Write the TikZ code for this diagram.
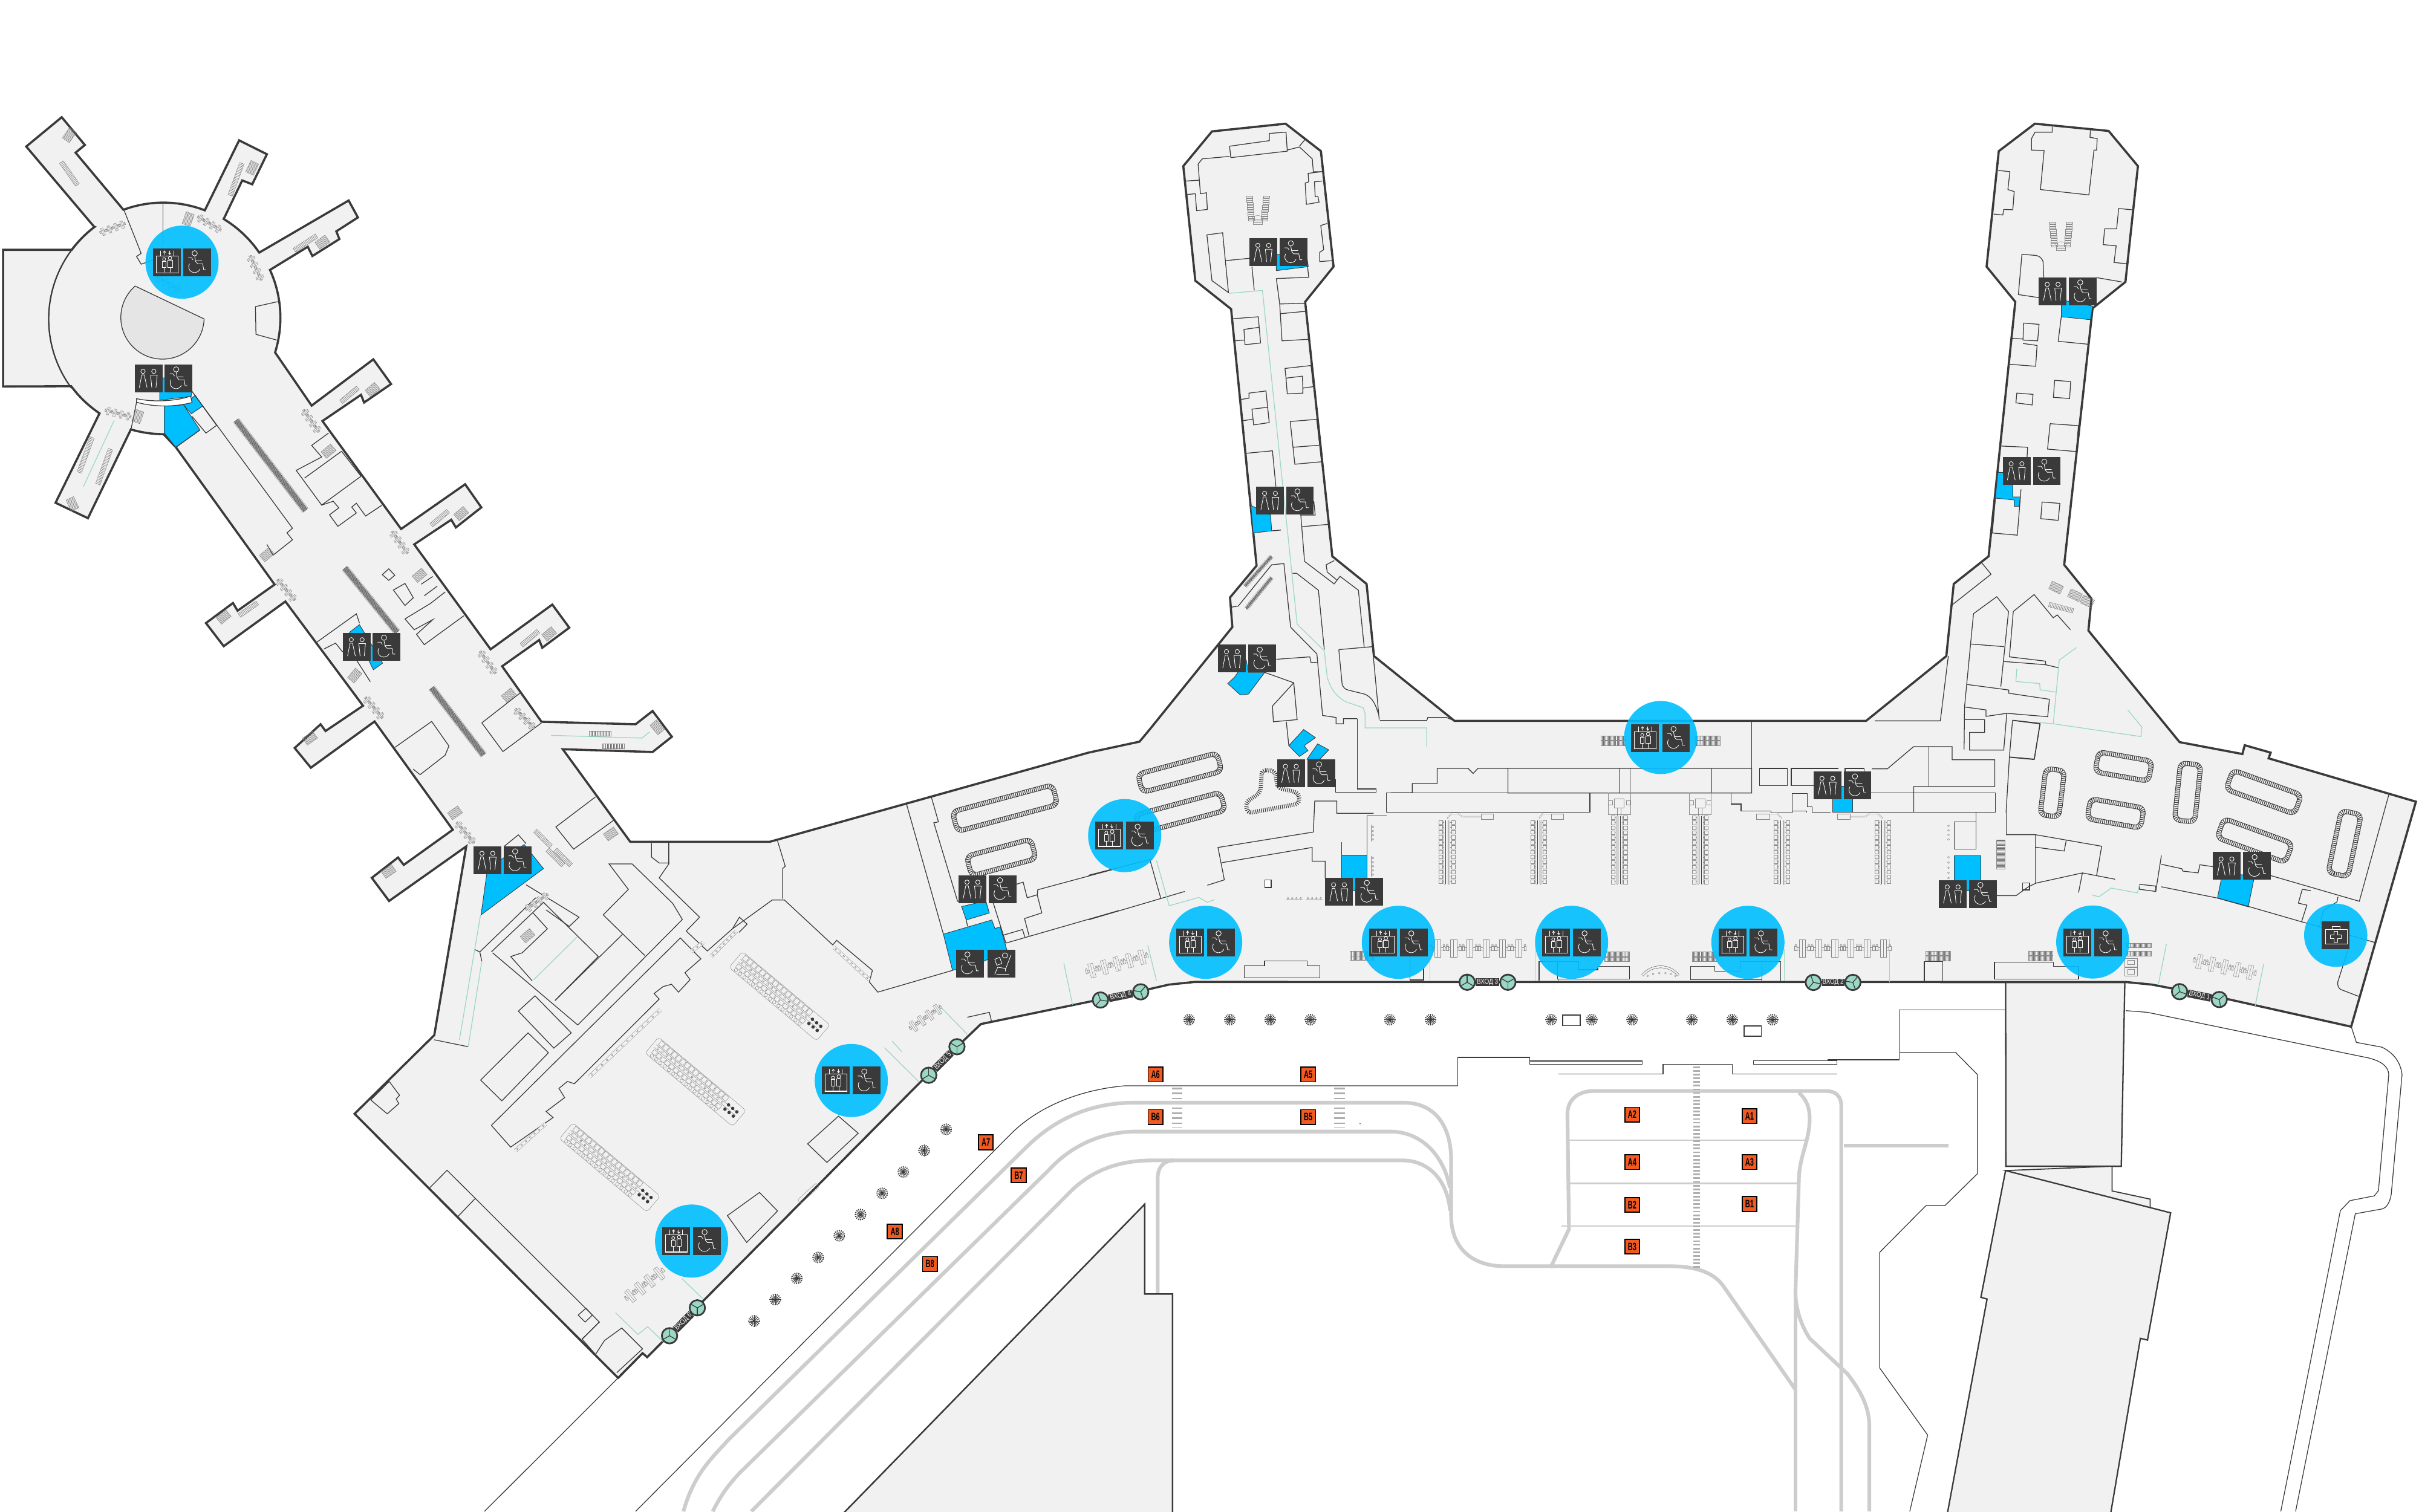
\documentclass[tikz,border=0pt]{standalone}
\usepackage{fontspec}
\setmainfont{Liberation Sans}
\newfontfamily\gatefont{Liberation Sans}[FakeStretch=0.62]
\newfontfamily\entfont{Liberation Sans}[FakeStretch=0.85]
\usetikzlibrary{calc}
\definecolor{wallc}{HTML}{3A3A3A}
\definecolor{floorc}{HTML}{F1F1F1}
\definecolor{bluec}{HTML}{00BFFF}
\definecolor{greenc}{HTML}{9AD8C5}
\definecolor{roadc}{HTML}{CDCDCD}
\definecolor{greyc}{HTML}{8A8A8A}
\definecolor{orangec}{HTML}{F15A22}
\tikzset{
 outerwall/.style={draw=wallc,line width=1.4pt,line join=miter,fill=floorc},
 w/.style={draw=wallc,line width=.5pt},
 thinw/.style={draw=wallc,line width=.5pt},
 bw/.style={draw=wallc,line width=.35pt,fill=bluec},
 gl/.style={draw=greenc,line width=.5pt},
 road/.style={draw=roadc,line width=2.4pt},
 roadthin/.style={draw=roadc,line width=.9pt},
 gy/.style={draw=greyc,line width=.2pt},
 glyph/.style={draw=white,line width=.33pt,line cap=round},
 gatestyle/.style={draw=black,fill=orangec,line width=.7pt,minimum width=9.6pt,minimum height=9.6pt,inner sep=0pt,font=\gatefont\bfseries\fontsize{7}{7}\selectfont,text=black},
 entc/.style={circle,draw=wallc,line width=1.1pt,fill=greenc,minimum size=10pt,inner sep=0pt},
 entbar/.style={draw=wallc,line width=5pt},
 enttext/.style={font=\entfont\fontsize{4.6}{4.6}\selectfont,text=white,inner sep=0pt},
 liftic/.pic={
  \fill[wallc] (-9,-9) rectangle (9,9);
  \draw[glyph] (-7,-4.2) rectangle (7.2,7);
  \draw[glyph,line width=.7pt] (-7,7) -- (7.2,7);
  \draw[glyph] (-4.2,-7.3) -- (-4.2,-4.2) (4.2,-7.3) -- (4.2,-4.2) (-1.7,-5) -- (-1.7,-7.3) (1.7,-7.3) -- (1.7,-5);
  \draw[glyph] (-2.5,-6.3) -- (-1.7,-7.3) -- (-.9,-6.3) (.9,-6) -- (1.7,-5) -- (2.5,-6);
  \draw[glyph] (-1.9,-1.9) circle[radius=1] (1.9,-2.6) circle[radius=1.15];
  \draw[glyph] (-1.9,6.5) -- (-1.9,3.5) (1.9,6.5) -- (1.9,3.5) (-3.2,3.5) rectangle (-.6,-.6) (.4,3.5) rectangle (3.4,-1.2);
 },
 wheelic/.pic={
  \fill[wallc] (-9,-9) rectangle (9,9);
  \draw[glyph] (-1.6,-5.8) circle[radius=1.7];
  \draw[glyph] (-1.6,-3.9) -- (-1,-.5) -- (.3,1) -- (3.6,1) -- (4.2,4.8) -- (5.6,4.8);
  \draw[glyph] (-.8,-1) -- (3,-1);
  \draw[glyph] (-5.7,-2.9) -- (-3.6,-2.9) -- (-2.7,-1.5);
  \draw[glyph] (-5,1.1) arc[start angle=210,end angle=25,radius=3.8];
 },
 toiletic/.pic={
  \fill[wallc] (-9,-9) rectangle (9,9);
  \draw[glyph] (-3.6,-4.5) circle[radius=1.4] (3.4,-4.5) circle[radius=1.4];
  \draw[glyph] (-6,6) -- (-4.4,-2.2) -- (-2.8,-2.2) -- (-1,6);
  \draw[glyph] (2.1,6) -- (1.3,-2) -- (5.6,-2) -- (4.8,6);
 },
 loungeic/.pic={
  \fill[wallc] (-9,-9) rectangle (9,9);
  \draw[glyph] (2.4,-5.2) circle[radius=1.7];
  \draw[glyph] (6.3,-5.4) -- (3,3.2) -- (-2.3,2.5) -- (-4.2,7);
  \draw[glyph] (-3,6.9) -- (5,6.9) (2.5,3.3) -- (2.5,5);
  \draw[glyph] (-4.2,-2.7) -- (-1,-4) -- (.4,0) -- (-2.9,1.2) -- cycle;
 },
 medic/.pic={
  \fill[wallc] (-9,-9) rectangle (9,9);
  \draw[glyph] (-6.8,-3.6) rectangle (7.3,5.6);
  \draw[glyph] (-2.5,-3.6) -- (-2.5,-5.8) -- (2.7,-5.8) -- (2.7,-3.6);
  \draw[glyph,line width=.28pt] (-1,-2.6) -- (1.1,-2.6) -- (1.1,-.3) -- (3.6,-.3) -- (3.6,2) -- (1.1,2) -- (1.1,4.4) -- (-1,4.4) -- (-1,2) -- (-3.4,2) -- (-3.4,-.3) -- (-1,-.3) -- cycle;
 },
}
\newcommand\Wl[1]{\draw[w] plot coordinates {#1};}
\newcommand\Wc[1]{\draw[w] plot coordinates {#1} -- cycle;}
\newcommand\Bl[1]{\draw[bw] plot coordinates {#1} -- cycle;}
\newcommand\Gl[1]{\draw[gl] plot coordinates {#1};}
\newcommand\Ic[3]{\pic at (#2,#3) {#1};}
\newcommand\Pair[5]{\pic at (#2,#4) {#1}; \pic at (#3,#4) {#5};}
\newcommand\Disc[3]{\fill[bluec,opacity=.9] (#1,#2) circle[radius=#3];}
\newcommand\gatelabel[3]{\node[gatestyle] (g#1) at (#2,#3) {#1};}
\newcommand\entrancegate[7]{%
 \node[entc] (#1a) at (#2,#3) {};
 \node[entc] (#1b) at (#4,#5) {};
 \foreach \aa in {0,120,240} {
  \draw[draw=wallc,line width=.5pt] (#1a.center) -- ++(#7+\aa:5);
  \draw[draw=wallc,line width=.5pt] (#1b.center) -- ++(#7+60+\aa:5);
 }
 \draw[entbar] (#1a) -- node[enttext,sloped] (#1t) {#6} (#1b);
}
\newcommand\treeic[2]{%
 \begin{scope}[shift={(#1,#2)}]
 \foreach \aa in {0,22.5,...,337.5} {\draw[draw=wallc,line width=.28pt] (0,0) -- (\aa:3.8);}
 \draw[draw=wallc,line width=.5pt,dash pattern=on .7pt off .6pt] (0,0) circle[radius=3.4];
 \draw[draw=wallc,line width=.4pt,dash pattern=on .5pt off .5pt] (0,0) circle[radius=2.1];
 \fill[wallc] (0,0) circle[radius=.8];
 \end{scope}}
\newcommand\carousel[5]{%
 \begin{scope}[shift={(#1,#2)},rotate=#5]
 \pgfmathsetmacro\lh{#3/2}\pgfmathsetmacro\hh{#4/2}
 \pgfmathsetmacro\lm{#3/2-1.4}\pgfmathsetmacro\hm{#4/2-1.4}
 \pgfmathsetmacro\li{#3/2-2.8}\pgfmathsetmacro\hi{#4/2-2.8}
 \draw[draw=wallc,line width=2.7pt,dash pattern=on .45pt off .8pt,rounded corners=4pt] (-\lm,-\hm) rectangle (\lm,\hm);
 \draw[draw=wallc,line width=.35pt,rounded corners=5pt] (-\lh,-\hh) rectangle (\lh,\hh);
 \draw[draw=wallc,line width=.35pt,rounded corners=3pt] (-\li,-\hi) rectangle (\li,\hi);
 \end{scope}}
\newcommand\hatchbox[6]{% x y rot w h step
 \begin{scope}[shift={(#1,#2)},rotate=#3]
 \pgfmathsetmacro\hw{#4/2}\pgfmathsetmacro\hh{#5/2}
 \pgfmathtruncatemacro\nk{#4/#6}
 \foreach \kk in {0,...,\nk} {\pgfmathsetmacro\xx{-\hw+\kk*#6}\draw[draw=wallc!75,line width=.2pt] (\xx,-\hh) -- (\xx,\hh);}
 \draw[gy] (-\hw,-\hh) rectangle (\hw,\hh);
 \end{scope}}
\newcommand\seatrow[5]{% x y rot n scale
 \begin{scope}[shift={(#1,#2)},rotate=#3,scale=#5]
 \pgfmathsetmacro\nn{(#4-1)/2}
 \draw[gy] (-\nn*10.5-5,-.8) rectangle (\nn*10.5+5,.8);
 \foreach \ii in {1,...,#4} {
  \pgfmathsetmacro\xx{(\ii-1-\nn)*10.5}
  \draw[gy,fill=floorc] (\xx-2,-5.8) rectangle (\xx+2,5.8);
  \draw[gy] (\xx,-5.8) -- (\xx,5.8);
  \draw[gy,fill=floorc] (\xx-5,-1.5) rectangle (\xx-3.5,1.5) (\xx+3.5,-1.5) rectangle (\xx+5,1.5);
  \draw[gy] (\xx-4.2,-2.2) circle[radius=.7] (\xx+4.2,-2.2) circle[radius=.7];
 }
 \end{scope}}
\newcommand\seatcol[3]{% x ytop ybottom
 \draw[draw=wallc,line width=.3pt] (#1-.8,#2) -- (#1-.8,#3) (#1+.8,#2) -- (#1+.8,#3);
 \draw[gy] (#1-2,#2) -- (#1-2,#3) (#1+2,#2) -- (#1+2,#3) (#1-2,#3) -- (#1-.8,#3+.8) (#1+2,#3) -- (#1+.8,#3+.8);
 \pgfmathtruncatemacro\nk{(#3-#2)/3.2}
 \foreach \kk in {0,...,\nk} {
  \pgfmathsetmacro\yy{#2+\kk*3.2}
  \draw[gy] (#1-5.2,\yy) rectangle (#1-2.8,\yy+2.4) (#1+2.8,\yy) rectangle (#1+5.2,\yy+2.4);
  \draw[gy] (#1-2.8,\yy+1.2) -- (#1-2,\yy+1.2) (#1+2.8,\yy+1.2) -- (#1+2,\yy+1.2);
 }}
\newcommand\seatisland[3]{%
 \begin{scope}[shift={(#1,#2)},rotate=-40]
 \draw[gy,rounded corners=2pt] (-37,-7.5) rectangle (37,6);
 \draw[gy] (-35,-2.8) -- (34,-2.8) (-35,-.6) -- (34,-.6);
 \foreach \xx in {-34,-30.4,...,22} {
  \draw[gy] (\xx,-7) rectangle (\xx+3,-3.6) (\xx,.4) rectangle (\xx+3,3.2);
  \draw[gy] (\xx+1.5,4.5) circle[radius=1.1] (\xx+1.5,-1.7) circle[radius=.7];
 }
 \foreach \xx in {26,29.5,33} {\fill[wallc] (\xx,-3) circle[radius=1.1] (\xx,.6) circle[radius=1.1];}
 \end{scope}}
\newcommand\deskrow[5]{%
 \draw[draw=greyc,line width=2.4pt] (#1,#2) -- (#3,#4);
 \draw[draw=floorc,line width=2pt] (#1,#2) -- (#3,#4);
 \foreach \ii in {1,...,#5} {
  \pgfmathsetmacro\ff{(\ii-.5)/#5}
  \draw[gy] ($(#1,#2)!\ff!(#3,#4)$) circle[radius=.6];
 }}
\newcommand\ustair[2]{%
 \begin{scope}[shift={(#1,#2)}]
 \foreach \ii in {0,1.5,...,15} {
  \draw[gy] (-7.5+\ii*.09,-9+\ii) rectangle (-3.5+\ii*.09,-7.8+\ii);
  \draw[gy] (3.5-\ii*.09,-9+\ii) rectangle (7.5-\ii*.09,-7.8+\ii);
 }
 \foreach \ii in {6,7.2,8.4} {\draw[gy] (-3,\ii) rectangle (3,\ii+1.1);}
 \draw[gy] (-4,6) .. controls (-3,3) and (3,3) .. (4,6);
 \end{scope}}
\begin{document}
\begin{tikzpicture}[x=1pt,y=-1pt]
\useasboundingbox (0,0) rectangle (1568,980);
\fill[white] (0,0) rectangle (1568,980);

% road edge thin lines
\draw[thinw] (1378,655.3) -- (1392,656.4) -- (1535.4,686) .. controls (1543,688) and (1548,691) .. (1548.4,696.7) -- (1541.7,772) -- (1539,775.4) -- (1523.2,778.5) -- (1517,785) -- (1478.4,980);
\draw[thinw] (1524,665.5) -- (1527.4,675.9) -- (1544,679) .. controls (1552,683) and (1556,689) .. (1557,696.7) -- (1550,774.3) .. controls (1549,780) and (1547,783) .. (1544,783.9) -- (1526.7,787) -- (1488,980);
\Wl{(1231,654.9) (1300,654.9)}
\Wl{(1231,654.9) (1231,687.2) (1184.7,687.2)}
\Wl{(1231.6,682.5) (1267.7,682.5) (1281.7,696.7) (1281.7,761.1) (1260.7,781.7) (1248.4,781.7) (1218.4,812) (1218.4,887) (1249.5,930.5) (1237.9,980)}
\Wl{(944.9,704) (944.9,685.6) (991.6,685.6) (991.6,690) (1064.5,690) (1064.5,688) (991.6,688)}
\Wl{(1136.5,687.8) (1136.5,690) (1190.7,690) (1190.7,687.8) (1136.5,687.8)}
\Wl{(1010.3,696.5) (1078,696.5) (1078,690) (1123,690) (1123,696.5) (1190.7,696.5)}
\draw[thinw] (944.9,704) -- (729.5,704) .. controls (705,706) and (675,715) .. (654.5,736) -- (412,980);
\draw[thinw] (400.8,893.3) -- (314,980);

% roads
\draw[road] (443,980) .. controls (450,955) and (462,945) .. (472,933.7) -- (664.5,744.6) .. controls (682,727) and (705,715) .. (735,715) -- (910,715) .. controls (930,715) and (940.6,730) .. (940.6,752) -- (940.6,788) .. controls (940.6,810) and (955,821) .. (975,821) -- (1082,821) .. controls (1097,821) and (1110,824) .. (1117,833.8) -- (1163.8,901);
\draw[road] (462,980) .. controls (468,968) and (473,962) .. (479.5,955) -- (679.5,759) .. controls (695,742) and (715,733.7) .. (737,733.7) -- (901,733.7) .. controls (922,733.7) and (936,750) .. (939.8,770);
\draw[road] (487,980) -- (694.5,772) .. controls (708,759) and (725,752.4) .. (747,752.4) -- (909,752.4) .. controls (926,752.4) and (938,765) .. (940,785);
\draw[road] (761,752.4) .. controls (754,752.4) and (750.4,757) .. (750.4,764.4) -- (750.4,839);
\draw[road] (1005,822) -- (1017,797) -- (1016,722.4) .. controls (1016,713) and (1023,707.4) .. (1033,707.4) -- (1183.7,707.4) .. controls (1190,707.4) and (1193.5,711) .. (1193.5,717) -- (1193.5,980);
\draw[road] (1166,708.4) .. controls (1171,713) and (1173,718) .. (1173,725.4) .. controls (1173,740) and (1166,750) .. (1166,766) -- (1163.8,838) .. controls (1164,850) and (1168,860) .. (1173,867.8) -- (1197.7,891) .. controls (1206,902) and (1211.7,912) .. (1211.7,925) -- (1211.7,980);
\draw[road] (1163.8,838) -- (1163.8,980);
\draw[road] (1195,742.9) -- (1263,742.9);
\draw[roadthin] (1017,739.2) -- (1172,739.2) (1017,767.3) -- (1165,767.3) (1012,794.9) -- (1163.8,794.9);
\draw[draw=roadc!85!black,line width=4.2pt,dash pattern=on 1.1pt off 1.3pt] (1099.7,691.4) -- (1099.7,823.2);
\foreach \cx in {763,868.4} {
 \draw[draw=roadc!85!black,line width=7pt,dash pattern=on 1pt off 2.3pt] (\cx,705.2) -- (\cx,713);
 \draw[draw=roadc!85!black,line width=7pt,dash pattern=on 1pt off 2.3pt] (\cx,718) -- (\cx,731.5);
}
\fill[wallc] (881.6,728.6) circle[radius=.35];

% lower buildings
\draw[outerwall,line width=.9pt] (1300,600) -- (1378,600) -- (1375,756.2) -- (1300.2,756.2) -- cycle;
\draw[outerwall,line width=.7pt] (1369,756.2) -- (1369,772.2) -- (1393.7,777.5) -- (1393.7,785) -- (1300,759) -- cycle;
\draw[outerwall,line width=.9pt] (1300,759) -- (1407,786.4) -- (1392,868.9) -- (1387.4,867.8) -- (1367.5,985) -- (1261.6,985) -- (1288,842.3) -- (1284,841.2) -- cycle;
\draw[outerwall,line width=1pt] (543,985) -- (742,780.8) -- (742,839) -- (760,839) -- (760,985) -- cycle;

% main floor outline
\draw[outerwall] (61,147) -- (17,95) -- (40,76) -- (55,94) -- (49,99) -- (80,136) arc[start angle=249.8,end angle=291,radius=75]
 -- (155,91) -- (173,100) -- (163.5,119.5) -- (157,117) -- (145,142) arc[start angle=-58.8,end angle=-34.4,radius=75]
 -- (226,130) -- (232,141) -- (218,150) -- (220,155) -- (202.5,166) -- (199.5,160) -- (175,175) arc[start angle=-24.5,end angle=17.4,radius=75]
 -- (202,263) -- (242,233) -- (253.5,249) -- (236,261) -- (234,256) -- (209,273) -- (260,343) -- (301.5,314) -- (312,329) -- (295.5,342) -- (292.5,337) -- (268.5,353) -- (318,421) -- (358,392) -- (369,407) -- (351.5,420) -- (349.5,415) -- (325.5,432) -- (351,468)
 -- (412,469.6) -- (423,461) -- (435.5,477.7) -- (423,487.6) -- (364.8,485.8) -- (408.5,545.8) -- (499,545.8) -- (705.6,488) -- (738.6,480.9) -- (744.8,473.5) -- (798.8,406.6) -- (797.3,387.4) -- (814.5,366.8)
 -- (798,200.4) -- (774.8,182) -- (767,107.7) -- (785.6,85.2) -- (833.3,80.2) -- (856.2,98) -- (864.4,172.9) -- (846,195.7) -- (863.6,360.7) -- (885.8,378.6) -- (890.6,425.4) -- (942.8,467.4)
 -- (1209.6,467.4) -- (1261.6,425.4) -- (1266.4,378.6) -- (1289,360.7) -- (1306.3,195.7) -- (1287.7,172.9) -- (1295.6,98) -- (1319,80.2) -- (1366.8,84.9) -- (1385.8,107.7) -- (1377.7,182.8) -- (1356.4,199.9) -- (1338,366.2) -- (1355.7,388.2) -- (1353.7,408.9)
 -- (1412.8,481.2) -- (1453.5,488.9) -- (1455,483.2) -- (1471.8,488) -- (1470.5,491.7) -- (1566,519.8) -- (1524,665.7) -- (1444.8,648) -- (1394.8,638.4) -- (1378.5,636.8) -- (774.4,636.7) -- (757.8,638.4) -- (738.6,642.8) -- (635.8,664) -- (598.2,700) -- (457,842.3) -- (419.5,880) -- (416.5,877.4) -- (400.8,893.3) -- (399.8,892.6) -- (229.8,722.2) -- (281.5,671.2) -- (302.2,548.8) -- (252.2,584.2) -- (241,569.2) -- (258,556) -- (261.7,560.8) -- (293.5,538) -- (242.8,467.8) -- (201.5,497.8) -- (191,485) -- (207.8,469.6) -- (211,474) -- (235.3,457.6) -- (185,390) -- (145,419) -- (133.5,404) -- (151,391) -- (154,396) -- (178,379) -- (114,290) -- (106,281.5) arc[start angle=90,end angle=106.4,radius=75]
 -- (57,336) -- (36,326) -- (64.5,268) arc[start angle=124,end angle=143.5,radius=75]
 -- (2,250.6) -- (2,162) -- (46.5,162) arc[start angle=216.8,end angle=232.9,radius=75] -- cycle;
\draw[draw=floorc,line width=1.6pt] (47.5,163) -- (47.5,250);
\draw[outerwall,line width=.9pt,fill=none] (46.5,162) arc[start angle=216.8,end angle=143.5,radius=75];

% blue rooms
\Bl{(103.5,245) (120,245) (124.5,252.5) (123.9,257) (103.5,259.5)}
\Bl{(119,262.5) (124,268.3) (131.4,263.3) (126.6,256.3)}
\Bl{(106.5,263.3) (119,262.5) (129.6,278.8) (114,290) (106.5,280.8)}
\Bl{(226.5,410) (233,405) (248,430) (242,434.3) (235,420)}
\Bl{(339.8,547.6) (352.3,563.2) (311.8,593.2) (316,563)}
\Bl{(623.3,587.8) (639,584.1) (641.3,592) (626.3,596.5)}
\Bl{(611.5,605.7) (642.9,596.5) (644.9,602) (648.4,601.1) (652.7,616.1) (637.7,623.3) (617.4,629.2)}
\Bl{(835.4,483.5) (845,473) (852.7,478.3) (845.3,483.5) (847.8,486.7) (842.3,490.5)}
\Bl{(847.2,492.3) (854.1,482.3) (861.3,486.2) (855.5,492.3)}
\Bl{(869.5,554.4) (886,554.4) (886,577.5) (869.5,577.5)}
\Bl{(1187.9,509.6) (1200.9,509.6) (1200.9,526.6) (1187.9,526.6)}
\Bl{(1266.8,554.7) (1284,554.7) (1284,577.5) (1266.8,577.5)}
\Bl{(1440.5,566.9) (1461.5,567.4) (1457.3,588) (1437.3,582.3)}
\Bl{(810.8,327.7) (823.6,334) (824.3,344.2) (812.3,345.6)}
\Bl{(827,165) (847,165) (848,172.9) (827.3,175.5)}
\Bl{(795.8,443.2) (800.3,439) (807.8,428) (809.3,436) (819.8,436) (809.3,450) (804,450.6)}
\Bl{(1336.1,194.4) (1356.4,198.5) (1355,207.3) (1336.1,205.4)}
\Bl{(1295,306.3) (1298.8,306.3) (1304.7,314) (1304.7,322.2) (1309.6,322.2) (1308.7,328.3) (1305.6,328.3) (1305.6,324.2) (1293.4,323)}

% rotunda
\draw[w,fill=black!10] (132.3,206.8) arc[start angle=2,end angle=229,radius=27] -- cycle;
\Wl{(105.6,131.8) (105.6,158.8)}
\Wl{(80.4,136.3) (91.5,164.3) (88.5,166.3) (91.5,171.3) (99,168.8)}
\Wl{(180,195.6) (165.6,198.8) (165.9,216.8) (179.4,220.5)}
\draw[w,fill=white] (88.5,260.8) .. controls (100,264) and (113,264) .. (124.5,261) -- (123.6,256.8) .. controls (115,260) and (100,261) .. (88.5,258.5) -- cycle;
\Wl{(88.5,260.8) (85,278)}
\Wl{(124.5,253.8) (189.6,342.5) (186,345.5) (189.6,350) (177,360) (173,353)}
\Wl{(131.4,263.3) (140.4,275.8) (133.5,280.8) (124.5,270)}
\Wl{(129.6,278.8) (114,290)}
% long hall rooms
\Wl{(213,280.8) (202,288.8) (208.5,296.3) (192,305) (208.5,327.5) (234,308.8)}
\Wl{(197.4,310) (221.4,292.6)}
\Wl{(208.5,327.5) (216,325) (219.6,329.3) (213.6,333.8) (219,341.3) (231,332.6) (228,328.8) (231,326.3) (237,334.6) (247.5,327.6)}
\Wl{(221.4,292.6) (234,308.8)}
\Wc{(247.8,372.6) (252,368.8) (255.9,373) (252,376.3)}
\Wc{(255,382.6) (262.5,378.3) (267.9,387.6) (262.5,392.6)}
\Wl{(262.5,401.3) (279,391.3) (288.6,383.8)}
\Wl{(262.5,401.3) (268.5,408.3) (280.5,401.8) (270,411.3) (275,418) (300.6,399.3)}
\Wl{(273,378.8) (280.5,373.8)} \Wl{(275,386.3) (283.5,380)}
\Wl{(205.5,416.3) (231,398) (233,404)}
\Wl{(210,420.8) (217.5,417) (222,422.6) (226,420) (240,442)}
\Wl{(256,484.6) (279.8,467.8) (291,483.7) (288.5,489.7) (272.3,502.3) (267.8,498.7)}
\Wl{(312.3,468.7) (337.3,449.2)} \Wl{(312.3,468.7) (326,487.3) (351,468.7)}
\Wl{(386,516.7) (360.3,536.2) (371.8,550.6) (398,531.7)}
\Wl{(326.8,548.8) (336,541.3) (341,547)}
% lower-left wing
\Wl{(341,573.7) (375.3,594.7) (369,600.7) (354,590)}
\Wl{(311,617.2) (347.3,582.1)} \Wl{(307.8,615.7) (311,617.2) (312.3,623.2)}
\Wl{(318.5,617.2) (352.3,585.1) (387.8,620.2) (359.8,648.7)}
\Wl{(319.3,617.8) (374.5,664.6)}
\Wl{(345.3,591.7) (354.8,602.2) (338.5,617.8) (331,620.2) (345,636)}
\Wc{(336,655.6) (346.8,645.7) (370.3,669.7) (359,679.6)}
\Wc{(311.5,700.3) (342.3,669.7) (355.5,682.6) (325.3,713.8)}
\Wl{(318.5,729.7) (441,608.2) (454.3,621.7) (444,630.7) (447.3,635.2) (439.8,643.3) (435.3,638.2) (429.8,639.7) (424,644.2) (427.3,647.8) (372.3,702.7) (367.8,701.2) (362.3,705.7) (366,711.7) (354,720.7) (358.5,724.6) (331,743.8) (318.5,729.7)}
\Wl{(374.5,664.6) (442.3,596.2) (436,585.7) (409.8,560.2) (394.8,560.2) (407.3,576.7) (391,593.2) (418,619.6)}
\Wl{(403.5,605.8) (359.8,648.7)}
\Wl{(453.5,594.7) (427.3,569.2) (433.5,560.2) (433.5,546)}
\Wl{(422.3,546.7) (422.3,555.7) (427.3,559.6) (434,559.6)}
\Wl{(444.8,603.7) (453.5,594.7)}
\Wl{(444.8,603.7) (458.5,616.6) (474.8,602.2) (479.3,594.7) (484.3,599.2) (479,604.6)}
\Wl{(474.8,602.2) (500.5,583.6) (508.5,583.6) (539.8,612.7) (542.3,609.7) (565.5,629.2) (563.5,636.7) (569,643.3) (617.4,629.2)}
\Wl{(507.3,582.7) (507.3,563.2) (509,561.7) (504,545.2)}
\Wl{(278.5,770.2) (289.8,758.8) (388.5,857.2) (377.3,868.3) (386,878.2) (391.8,869.2) (403,861.1) (416.5,874.6) (399.8,890)}
\Wl{(296.8,788.8) (308,777.1)} \Wl{(377.3,868.3) (388.5,857.2)}
\Wc{(374.8,852.7) (379.8,848.2) (384,852.7) (379.3,857.2)}
\Wl{(240.3,713.2) (252.3,701.2) (259,710.2) (256.8,712.6) (258.5,715.6) (251,722.2) (240.3,713.2)}
\Wc{(471.5,788.2) (492.3,773.2) (504,785.2) (484,805.6)}
\Wc{(523.5,741.7) (543.5,723.7) (556.3,734.8) (536,753.7)}
\Wl{(627,659.6) (641.3,656.4) (642.8,662.7)}
\Wl{(281.5,674.2) (303.5,678.7)}
% west hall
\Wl{(587.6,521.4) (611.5,605.7)}
\Wl{(603.7,516.8) (608.3,532.9) (605.3,533.5) (620.7,584.4) (630,582)}
\Wl{(626.3,596.5) (627.2,600.7)}
\Wl{(643.8,585.4) (652,611.5)}
\Wl{(650.5,606.3) (662.8,602.7) (664.3,607.6)}
\Wl{(652,611.5) (725.2,590.4)}
\Wl{(667.1,607) (664.1,595.6) (675.3,591.9) (672.3,580.2) (672.7,576.9) (721.3,563.8)}
\Wl{(658.6,573.4) (663.2,572) (665.8,582.1) (672.3,580.2)}
\Wl{(705.6,567.5) (746.9,557)}
\Wl{(705.6,596.4) (768,578)}
\Wl{(745.5,557.9) (752.4,582.4)}
\Wl{(782.6,574) (793.6,570.5) (789.5,549.5) (851.3,539.5) (852.2,519.4) (866.5,519.4) (866.5,527.3) (890.4,527.3)}
\Wl{(792.2,559.3) (850.5,549.5) (850.5,558.4) (859,558.4) (859,569.3)}
\Wl{(869.5,546) (869.5,569.3)}
\Wl{(898.7,529) (886,529) (886,569.3)}
\Wl{(879.7,466) (879.7,511.5) (892,511.5) (892,513.8) (865.7,513.8) (865.7,505.4)}
\Wl{(833.8,468) (835.4,483.5)}
% centre band
\Wl{(901.6,514) (915.4,514) (915.4,508) (931.6,508) (931.6,498.2) (951.6,498.2) (954.9,501.5) (958,498.2) (1135.4,498.2) (1135.4,514.2) (977.4,514.2) (977.4,498.2)}
\Wl{(1049.6,498.2) (1049.6,514.2)} \Wl{(1056.6,498.2) (1056.6,514.2)} \Wl{(1109.4,498.2) (1109.4,514.2)}
\Wl{(1135.4,467.8) (1135.4,498.2)}
\Wc{(898.7,514) (1030.6,514) (1030.6,526.7) (898.7,526.7)}
\Wl{(1122,514.2) (1122,521.4) (1128.6,521.4) (1128.6,526) (1147.9,526) (1147.9,527) (1161.6,527) (1161.6,514.6) (1171.6,514.6) (1171.6,523) (1174.6,523) (1174.6,526.6) (1186.6,526.6)}
\Wl{(1161.6,526) (1171,526) (1171,527)}
\Wc{(1140.6,498.2) (1158.4,498.2) (1158.4,509.3) (1140.6,509.3)}
\Wl{(1191.6,498.2) (1161.1,498.2) (1161.1,509.3) (1191,509.3)}
\Wl{(1196,500.5) (1196,498.2) (1208.4,498.2) (1208.4,500.5)}
\Wl{(1213.4,498.5) (1223.4,498.5) (1240.4,484.1) (1265.4,484.1) (1265.4,492.6) (1293,492.6) (1293,510) (1240.5,510) (1240.5,526.6)}
\Wl{(1250.2,484) (1250.2,510)}
\Wl{(1213,514.1) (1293.5,514.1) (1293.5,526.6) (1200.9,526.6)}
\Wl{(1280.8,526.6) (1280.8,550.6)}
\Wc{(1266.8,532.8) (1280.8,532.8) (1280.8,550.6) (1266.8,550.6)}
\Wl{(1284,554.7) (1284,570)}
\Wl{(1294,580.7) (1306.8,580.7) (1314.8,575) (1319.8,572.6) (1349.8,566) (1371,570.1)}
\Wl{(1349.8,566) (1347.3,578.8)}
\Wc{(1311,572.6) (1315.5,572.6) (1315.5,577) (1311,577)}
\Wl{(1319.3,541.2) (1319.3,572.6)}
\Wl{(1300.3,541.2) (1319.3,541.2) (1362.3,548.7) (1359,567.7)}
\Wl{(1319.3,549.3) (1338,551.8) (1339.3,545)}
\Wl{(1300.3,527) (1300.3,541.2)}
\Wl{(1304.8,467) (1322.3,469) (1318.5,492.5) (1302.3,491)}
\Wl{(1401,554.7) (1397.3,578.3)}
\Wl{(1401,575) (1437.3,582.3) (1457.3,587.7) (1492.3,597.8) (1539.8,611.2)}
\Wl{(1401,560.4) (1414.3,563.3) (1414.8,564.8) (1424.8,566) (1426,560.7) (1434.8,562)}
\Wl{(1471.8,567.7) (1529.3,584.4) (1548.5,515)}
\Wl{(1492.3,576.6) (1497.8,577.5)}
\Wl{(1492.3,576.6) (1489.8,585.6) (1495.3,586.9) (1491.8,597.8)}
\Wl{(1515.5,581.5) (1514.8,584.8) (1506,590.4) (1503.5,601)}
\draw[w] (1522.3,614.8) -- (1515.3,636.8) .. controls (1515,639) and (1516,641) .. (1517.3,641.6) -- (1529.3,646.2);
\Wc{(1386.8,573.4) (1397.3,574.5) (1397.3,578) (1386.8,576.6)}
% facade rooms
\Wc{(806.5,626.2) (819.7,626.2) (819.7,623) (847.2,623) (847.2,626.2) (855.5,626.2) (855.5,634) (806.5,634)}
\Wl{(913.8,620) (913.8,635.4) (922.8,635.4) (922.8,628)}
\Wl{(997.6,636) (997.6,623.5) (1023.2,623.5) (1023.2,628.8) (1035.6,628.8) (1035.6,626.5) (1056.2,626.5) (1056.2,634.9) (1010,634.9) (1010,636)}
\Wl{(1009.5,623.5) (1009.5,635)}
\Wc{(1095.9,626.6) (1111.6,626.6) (1111.6,629.6) (1127.9,629.6) (1127.9,623.6) (1154.1,623.6) (1154.1,636.4) (1142,636.4) (1142,635.1) (1095.9,635.1)}
\Wl{(1142,623.6) (1142,636)}
\Wc{(1247.3,623.4) (1259.3,623.4) (1259.3,636.8) (1247.3,636.8)}
\Wc{(1292.8,624) (1331,624) (1331,626.7) (1347.3,626.7) (1347.3,634.7) (1292.8,634.7)}
% middle pier
\Wl{(842.3,94.8) (846,90.4)}
\Wl{(834.4,97.3) (842.3,95.3) (850.6,103) (851.3,111.3) (857,111.3)}
\Wl{(797,101.4) (779.3,103) (776.6,106.4) (778.1,125.6) (782,125) (782.6,135.8) (775.6,136.6) (774.8,125.6) (768.5,126.2)}
\Wl{(768.5,117.4) (777.5,116.8)}
\Wc{(797,94.8) (822.8,91.2) (822.8,86.5) (833.6,85.7) (834.4,98) (797.8,102.2)}
\Wl{(857,111.3) (847.9,112.4) (848.3,117.9) (846,118.7) (846.8,132.5) (855,131.1) (854.3,127.5) (852.5,127.5) (852,117.9) (857,117.4)}
\Wl{(860.3,144.9) (856.1,146.2) (858,161.9) (855.4,163.6) (855.4,169.6) (863.8,169)}
\Wc{(782.3,152.3) (792.5,150.9) (796.3,189.7) (785.6,182)}
\Wl{(794.3,169) (810.8,167.4)} \Wl{(811.5,172.9) (813,188.3)}
\Wl{(827.3,180.6) (848.3,179.8) (847.5,172.4)}
\Wl{(827.3,180.6) (829.5,197.1) (831,221) (848,220)}
\Wl{(829.5,197.1) (846,196.6)} \Wl{(829.9,203.4) (846.8,201.8)}
\Wl{(798.8,206.7) (815.6,205.4) (817.1,222.4) (807,223.5) (806.3,213.6) (816.4,212.2)}
\Wl{(799.9,221) (806.6,220.5)}
\Wl{(832.9,238.9) (849.8,237) (851.3,250.7) (844.5,251.6) (844.2,243.9) (833.6,245.2) (834.4,255.4) (844.5,254.9) (844.5,251.6)}
\Wl{(832.9,238.9) (833.6,245.2)}
\Wl{(804.4,259) (809.6,258.2) (809.6,254.9) (820.6,253.5) (822.7,274) (812.6,275.5) (811.5,265.3) (822,264)}
\Wl{(805.9,272.7) (811.9,271.9)}
\Wc{(836.3,273.3) (853.5,271.9) (856.6,299.4) (839.3,301)}
\Wl{(838.1,290) (855,288.7)}
\Wl{(807.8,293.9) (824.8,292.3) (827,315.4)}
\Wl{(824.3,344.2) (830.3,343.7)}
\Wl{(843,331.9) (845.6,364) (864.8,378.6) (868.6,373.7) (880.5,382.7) (884.3,419.9)}
\Wl{(843,334) (852.5,334) (851.6,325)}
\Wl{(843.8,341.5) (861,340)}
\Wl{(864.8,363.5) (859.6,366.2) (860.3,370.9) (866.3,375.9)}
\Wl{(798,393.7) (802.6,393) (824.3,366.2) (832.2,365.4) (836.6,406.7) (853.6,424) (857.3,463.9) (866,465.2) (866,469.3) (870.8,469.3) (870.8,466) (879.8,466)}
\Wl{(837.8,371.7) (840.4,371.7) (854.6,382.7) (858.4,421.2)}
\draw[w] (867.8,421.2) -- (889.6,419.3) -- (894,466.6);
\draw[w] (867.8,421.2) -- (870,444) .. controls (871,446) and (872,447) .. (873.8,447.4) -- (884.3,450) .. controls (890,452) and (892,458) .. (893.3,462.5);
\Wl{(894.4,467.2) (924.8,467.2) (925.5,465.2) (937.6,465.2) (942.8,467.4)}
\Wl{(827.3,427.5) (849,425.9) (849.8,429.5) (853.6,429.5)}
\Wl{(819.8,436) (838.6,442.7) (840.8,466.6) (825.4,468) (824.8,457.8) (838.6,442.7)}
% right pier
\Wl{(1330.2,82.2) (1330.2,85.7) (1319.1,85.7) (1316.8,89.9) (1316.8,97.3) (1325,97.6) (1322.6,122.9) (1354,126.4) (1357.3,97.3) (1359,97.3) (1359.4,89.9) (1354.7,89) (1355,84.4)}
\Wl{(1295.2,110.5) (1302.8,111.3) (1301.5,122.9) (1305.6,124.2) (1304.7,136) (1298.8,135.8) (1298.2,139.4) (1292.3,138.8)}
\Wl{(1381.8,136) (1373.3,135.2) (1372,148.4) (1364.2,148.4) (1363.3,158.6) (1371.7,159.4) (1370.3,170.2) (1378.6,171)}
\draw[w] (1324.8,180.6) -- (1324.3,169.6) .. controls (1323,166) and (1320,165.5) .. (1318.4,165.5) -- (1310.6,164.9) -- (1308.3,191) -- (1321.7,193);
\Wl{(1359,180) (1375.3,182.8)}
\Wl{(1336.1,205.4) (1334.1,221.3) (1353.5,223.2)}
\Wc{(1311.7,209.5) (1321.7,210.3) (1320.8,221) (1311.3,220.5)}
\Wl{(1304.1,219.4) (1311.3,219.8)}
\Wl{(1311.3,222.7) (1320.4,224) (1319.5,237.5) (1302.8,236.2)}
\Wc{(1307.3,254.9) (1317.8,255.7) (1317.2,262.6) (1306.7,261.2)}
\Wc{(1331.8,246.6) (1342.2,247.4) (1341.5,258.4) (1331,257.6)}
\Wl{(1328.9,274.7) (1347.2,276) (1345.9,292.8) (1327.2,291.2) (1328.9,274.7)}
\Wc{(1323.7,325.5) (1335.2,326.4) (1334.1,337.4) (1322.8,336.3)}
\Wl{(1296.9,289.2) (1314.3,290) (1313.9,296.7)}
\Wl{(1310,317.3) (1307.6,347) (1291.4,345.6) (1293.4,323)}
\Wl{(1284.5,364.9) (1290.6,372.3) (1265.9,391.8)}
\Wl{(1279.2,397.9) (1294.3,386.9) (1301.9,396.5) (1296.9,445.2)}
\Wl{(1279.2,397.9) (1273.4,458.4) (1273.1,485.9)}
\Wl{(1277.7,417.6) (1299.1,419.3)}
\Wl{(1275,443.8) (1302.1,447.4) (1302.1,449.5) (1328.4,453.4) (1327.3,464.7) (1300.8,462.5) (1298.8,486.4) (1276.6,486.4) (1276.6,474.9) (1286.4,474.9) (1286.4,466.6) (1273.4,466.6)}
\Wl{(1273.4,458.4) (1287.3,460.3) (1287.3,464.5) (1300.8,462.5)}
\Wl{(1305,396.5) (1318.5,385.5) (1330.9,400.6) (1333.5,398.7) (1342,408.3)}
\Wl{(1305,396.5) (1302.5,425.9) (1325.9,428.7) (1325.9,431) (1334.4,433)}
\Wl{(1298.8,428.9) (1325.9,431)}
\Wl{(1304.5,467.1) (1322.4,469.4) (1318.7,492.2) (1302.5,490.8) (1304.5,467.1)}
\Wl{(1302.5,490.8) (1300.3,527)}
\Wl{(1262.9,425.4) (1257.7,467.4) (1215.2,467.4)}

% green lines
\Gl{(74,272.6) (54,315.6)}
\Gl{(357.3,476.8) (416,478.6) (421,474.7)}
\Gl{(311.5,593.2) (297.8,674.2)}
\Gl{(303.5,678.7) (312.3,623.2)}
\Gl{(374,607.6) (346,635.2)}
\Gl{(399,851.2) (413.5,865.3) (419.8,860.2) (429.8,869.8)}
\Gl{(573.3,679.3) (595.8,701.6)}
\Gl{(578.3,675) (584.5,681.9)}
\Gl{(608.3,651.5) (627,670.6)}
\Gl{(442,829) (455.8,842.3)}
\Gl{(689.6,624.6) (695.2,651.4)}
\Gl{(749.6,558) (757.9,587.3) (777,581.9) (782.6,585) (787.3,583.3)}
\Gl{(744,613) (749.6,635.8)}
\Gl{(927,621) (927,635.8)}
\Gl{(995,615.7) (995,635.8)}
\Gl{(1156.6,615.5) (1156.6,636)}
\Gl{(1224.8,608.8) (1224.8,636.8)}
\Gl{(1404.3,612) (1399,638.4)}
\Gl{(1467.3,625) (1461.8,652.2)}
\Gl{(1356,580.2) (1360.5,581.5) (1368.5,575.8) (1385.5,579) (1386.8,573.4)}
\draw[gl] (796.9,190.2) -- (818.3,188.3) -- (840.8,404.7) -- (858.4,422) -- (860.3,439.1) .. controls (862,445) and (865,451) .. (872.3,455) -- (883.6,458.9) -- (884.8,462.5) -- (884.8,472) -- (924.8,472) -- (924.8,484.5);
\Gl{(1307.3,433.6) (1306.7,441.9) (1322.1,443.2) (1322.4,447.3) (1332.4,448.7)}
\Gl{(1345.9,419.9) (1334.8,428) (1330.9,469.3) (1387.7,477.6) (1388.4,471.5) (1379.2,460.3)}
\Gl{(1322.4,468.5) (1330.9,469.3)}

% carousels
\carousel{651.4}{524}{70}{16}{15}
\carousel{649}{556}{46}{16}{15}
\carousel{764.7}{501}{56}{15}{15}
\carousel{765}{527}{60}{15}{15}
\draw[draw=wallc,line width=2.7pt,dash pattern=on .45pt off .8pt,rounded corners=3pt] (818,499) -- (826.6,500) -- (828,510.7) -- (841.7,514) -- (842.5,521) -- (808.7,527.3) -- (807.3,520.3) -- (817,514) -- cycle;
\carousel{1330.3}{514}{33}{15}{83}
\carousel{1376.5}{497}{38}{16}{-10}
\carousel{1371.3}{527.4}{38}{16}{-10}
\carousel{1418}{513.8}{40}{16}{84}
\carousel{1467.3}{513.6}{50}{16}{-20}
\carousel{1461.5}{545}{50}{16}{-20}
\carousel{1519.8}{547}{44}{16}{78}

% check-in columns
\seatcol{937.9}{532}{573}
\seatcol{997.4}{532}{573}
\seatcol{1049.6}{529}{573}
\seatcol{1102}{529}{573}
\seatcol{1154.9}{532}{573}
\seatcol{1220.4}{532}{573}
\foreach \cx in {1049.6,1102} {
 \draw[gy] (\cx-7.2,514) -- (\cx-7.2,528) -- (\cx+7.2,528) -- (\cx+7.2,514);
 \draw[gy] (\cx-3.1,518) rectangle (\cx+3.1,523.8);
 \draw[gy] (\cx-7,519) rectangle (\cx-4.4,522) (\cx+4.4,519) rectangle (\cx+7,522);
 \draw[gy] (\cx-1.2,523.8) -- (\cx-1.2,529) (\cx+1.2,523.8) -- (\cx+1.2,529);
}
\draw[gy,double,double distance=.4pt] (938.5,531) -- (938.5,530) -- (941,527.5) -- (945,527.5) -- (948,529.5) -- (960,529.5);
\draw[gy] (959.9,527.8) rectangle (968.1,531.3);
\draw[gy,double,double distance=.4pt] (998,531) -- (998,530) -- (1000,527.5) -- (1005.4,527.5);
\draw[gy] (1005.4,527.8) rectangle (1013.6,531.3);
\draw[gy,double,double distance=.4pt] (1154.3,531) -- (1154.3,530) -- (1152,527.5) -- (1146.9,527.5);
\draw[gy] (1138.6,527.8) rectangle (1146.9,531.3);
\draw[gy,double,double distance=.4pt] (1219.8,531) -- (1219.8,530) -- (1217,527.5) -- (1212,527.5) -- (1209,529.5) -- (1199.1,529.5);
\draw[gy] (1190.9,527.8) rectangle (1199.1,531.3);

% seat rows
\seatrow{958}{615}{0}{6}{1}
\seatrow{1194.5}{615}{0}{6}{1}
\seatrow{1442}{627}{-12}{5}{.8}
\seatrow{724}{625}{15}{5}{.8}
\seatrow{600}{660}{35}{4}{.6}
\seatrow{418}{833}{38}{4}{.75}
\foreach \sx/\sy/\sr in {73/148/20,135.6/145/-30,165.6/173.8/-65,76.5/268.3/-15,201.6/273/-55,259/351.8/-55,316/429.6/-55,185.4/382.6/-50,242.2/459/-50,301.5/540/-50,340/466/-45,348/585/35,109/184/-30} {
 \seatrow{\sx}{\sy}{\sr}{4}{.42}
}
\seatisland{504.8}{646.5}{}
\seatisland{450.4}{702}{}
\seatisland{394.8}{757.5}{}

% escalator hatches
\foreach \hx/\hy/\hr in {45/87.6/55,163.5/108.8/65,209/157/35,241.5/252.6/40,299/333/40,356/411/40,272/373/40,213/292.5/40,89.4/270/70,47/326.8/-65,122/142/70,173/359.6/40,145/400/40,230/438/50,329.8/450.7/40,201/478.6/35,295/527/35,252/565/35,342/606.7/40,396/540.7/35,426/471.7/-50,1332.8/381/-25,1345/386/-25,1353/390/-25} {
 \hatchbox{\hx}{\hy}{\hr}{8}{5.5}{.75}
}
\foreach \rx/\ry/\rr/\rl in {45/112.5/-55/18,153/116.3/70/22,198/157.6/33/17,226.5/256/40/14,285/336/40/14,343.5/413.8/40/14,161/395/35/14,55.5/295/70/24,67.5/302.6/70/24,389/475.5/0/14,397.5/483.7/0/14,352/543.7/-45/14,360/556/-45/14,365/556/-45/14,1336/394/-15/16} {
 \hatchbox{\rx}{\ry}{\rr}{\rl}{3}{1}
}
% long diagonal strips
\foreach \ax/\ay/\bx/\by/\wd in {153/272.5/198/331/4.6,223.5/368.3/257.4/410/4.6,279.8/446/313.5/489.7/4.6,807/380/824.3/360.7/2.8,807.8/394.6/824.3/374.5/2.8} {
 \draw[draw=greyc,line width=\wd pt] (\ax,\ay) -- (\bx,\by);
 \draw[draw=floorc,line width=\wd pt-.4pt] (\ax,\ay) -- (\bx,\by);
 \draw[draw=wallc,line width=\wd pt-1pt,dash pattern=on .4pt off .25pt,opacity=.8] (\ax,\ay) -- (\bx,\by);
}
% horizontal escalators
\foreach \ex/\ey in {1045.7/478.5,1045.7/481.9,1107/478.5,1107/481.9,1048/618.7,1048/622,1105/618.7,1105/622,1256.3/618.1,1256.3/621.5,1322.7/618.1,1322.7/621.5,1386.5/613,1386.5/618.3,883.2/618.2,883.2/621.2} {
 \hatchbox{\ex}{\ey}{0}{16}{3}{.8}
}
\hatchbox{1297}{554}{90}{19}{5.5}{.8}
\draw[gy] (1377,621.3) rectangle (1385.5,626.8) (1377,627.2) rectangle (1385.5,632.7);
\draw[gy] (1379,622.5) rectangle (1383.5,625.5) (1379,628.5) rectangle (1383.5,631.5);
\draw[gy,rounded corners=1pt] (517,778) -- (529,767) -- (531,769.5) -- (519,780.5) -- cycle;
% desk rows
\deskrow{382}{698.2}{428}{654.7}{14}
\deskrow{334}{746.2}{353.5}{728.8}{7}
\deskrow{461}{620.2}{477.3}{603.7}{7}
\deskrow{540.5}{614.2}{563.5}{635.2}{9}
\deskrow{889.9}{534.8}{889.9}{545.6}{4}
\deskrow{889.9}{555}{889.9}{568.4}{5}
\deskrow{833.5}{582.4}{844.5}{582.4}{4}
\deskrow{846.4}{582.4}{857.4}{582.4}{4}
\deskrow{1263}{534}{1263}{545.8}{4}
\deskrow{1263}{554.2}{1263}{571}{5}
\deskrow{448}{617}{456}{611}{3}
\draw[w,fill=white] (819.8,570.5) rectangle (824,575.5);
% sculpture
\draw[draw=wallc,line width=1.5pt] (1064.5,632.5) .. controls (1071,625) and (1082,625) .. (1088,632.5);
\draw[draw=floorc,line width=1.1pt] (1064.5,632.5) .. controls (1071,625) and (1082,625) .. (1088,632.5);
\foreach \ex/\ey in {1068/632.8,1071.5/631.5,1075.5/631,1079.5/631,1083/631.5,1086/632.8} {\draw[gy] (\ex,\ey) circle[radius=.6];}
% U stairs
\ustair{815.3}{136}
\ustair{1335.8}{153}

% trees and boxes
\foreach \tx in {770.8,797.2,823.3,849.4,900.9,927.3,1005.4,1031.8,1057.9,1096.7,1122.8,1149} {\treeic{\tx}{661.2}}
\foreach \tx/\ty in {613.3/732.2,599/746,585.5/759.9,571.8/773.7,557.8/787.5,544/801.3,530.3/815.3,516.5/828.9,502.5/842.7,488.8/856.5} {\treeic{\tx}{\ty}}
\draw[w,line width=.6pt] (1013,658.2) rectangle (1024.3,665);
\draw[w,line width=.6pt] (1130.5,665.3) rectangle (1141.7,671.9);

% gate labels
\gatelabel{A6}{749}{696.7}
\gatelabel{A5}{848}{696.7}
\gatelabel{B6}{749}{724.3}
\gatelabel{B5}{848}{724.3}
\gatelabel{A7}{639}{740.7}
\gatelabel{B7}{660.3}{762}
\gatelabel{A8}{580}{798.5}
\gatelabel{B8}{602.8}{819.6}
\gatelabel{A2}{1058}{722.7}
\gatelabel{A1}{1134}{723.7}
\gatelabel{A4}{1058}{753.5}
\gatelabel{A3}{1134}{753.5}
\gatelabel{B2}{1058}{781.3}
\gatelabel{B1}{1134}{780.7}
\gatelabel{B3}{1058}{808.3}

% entrances
\entrancegate{ea}{1412.8}{643}{1438.5}{648.1}{ВХОД 1}{20}
\entrancegate{eb}{1175.4}{637}{1201}{637}{ВХОД 2}{10}
\entrancegate{ec}{951}{636.9}{977.4}{636.9}{ВХОД 3}{30}
\entrancegate{ed}{713.3}{648.4}{739.4}{643.1}{ВХОД 4}{10}
\entrancegate{ee}{602}{697.2}{620.3}{678.7}{ВХОД 5}{30}
\entrancegate{ef}{434}{866.1}{452}{848}{ВХОД 6}{30}

% blue discs
\Disc{118}{170}{23.7}
\Disc{729}{541.8}{23.7}
\Disc{781.5}{611}{23.7}
\Disc{906.4}{611}{23.7}
\Disc{1018.7}{611}{23.7}
\Disc{1133}{611}{23.7}
\Disc{1076.4}{478.2}{23.7}
\Disc{1356.5}{610.8}{23.7}
\Disc{1514}{606.4}{20.5}
\Disc{551.8}{700.6}{23.7}
\Disc{448.3}{804.7}{23.7}

% icons
\Pair{liftic}{108.3}{127.8}{170}{wheelic}
\Pair{liftic}{719}{739}{541.8}{wheelic}
\Pair{liftic}{771.5}{791.5}{611}{wheelic}
\Pair{liftic}{896.4}{916.4}{611}{wheelic}
\Pair{liftic}{1008.7}{1028.7}{611}{wheelic}
\Pair{liftic}{1123}{1143}{611}{wheelic}
\Pair{liftic}{1066.4}{1086.4}{478.5}{wheelic}
\Pair{liftic}{1346.5}{1366.5}{611}{wheelic}
\Pair{liftic}{541.8}{561.8}{700.6}{wheelic}
\Pair{liftic}{438.3}{458.3}{804.7}{wheelic}
\Pair{toiletic}{96.3}{115.8}{245.3}{wheelic}
\Pair{toiletic}{231.3}{250.5}{419.3}{wheelic}
\Pair{toiletic}{316}{335.5}{557.8}{wheelic}
\Pair{toiletic}{818.9}{838.3}{163.6}{wheelic}
\Pair{toiletic}{823.3}{842.6}{324.4}{wheelic}
\Pair{toiletic}{798.6}{818.2}{427}{wheelic}
\Pair{toiletic}{836.8}{856.6}{501.4}{wheelic}
\Pair{toiletic}{868}{887.6}{578.2}{wheelic}
\Pair{toiletic}{1184.6}{1204}{509.2}{wheelic}
\Pair{toiletic}{1265.8}{1285.3}{579.6}{wheelic}
\Pair{toiletic}{1443.3}{1463}{561.5}{wheelic}
\Pair{toiletic}{1330.6}{1350}{188.9}{wheelic}
\Pair{toiletic}{1307.2}{1326.7}{305.2}{wheelic}
\Pair{toiletic}{630.4}{649.8}{576.5}{wheelic}
\Pair{wheelic}{628.7}{649}{624.7}{loungeic}
\Ic{medic}{1514}{606.4}
\end{tikzpicture}
\end{document}
